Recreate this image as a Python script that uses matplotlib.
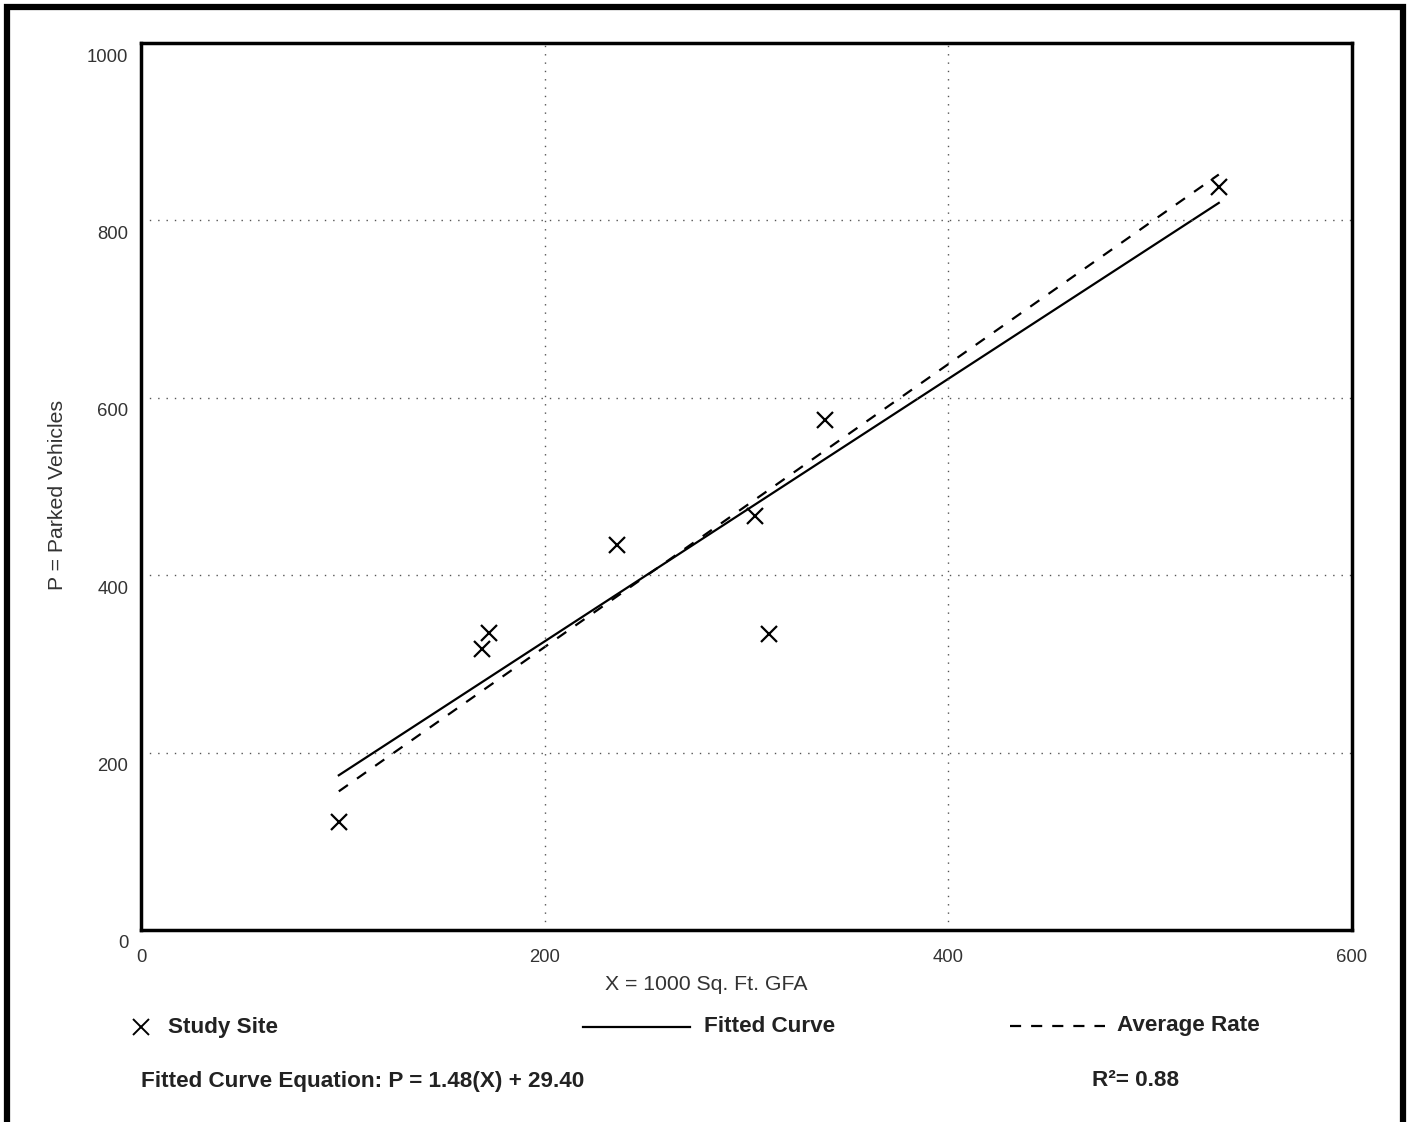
import numpy as np
import matplotlib.pyplot as plt
from matplotlib.patches import Rectangle
from matplotlib.lines import Line2D
from matplotlib.transforms import ScaledTranslation

plt.rcParams['font.family'] = ['Liberation Sans', 'DejaVu Sans']

# study sites (X = 1000 sq. ft. GFA, P = parked vehicles)
site_x = [98, 169, 172.5, 236, 304, 311, 339, 534]
site_p = [122, 317, 335, 434, 467, 334, 575, 838]

# fitted curve P = 1.48(X) + 29.40
fit_slope = 1.48
fit_icpt = 29.40
avg_rate = 1.595
r2 = 0.88

x_ticks = [0, 200, 400, 600]
y_ticks = [0, 200, 400, 600, 800, 1000]

fig = plt.figure(figsize=(14.08, 11.22), dpi=100)
ax = fig.add_axes([141/1408, 1-930/1122, 1211/1408, 887/1122])

xr = np.array([min(site_x), max(site_x)])
ax.plot(xr, fit_slope*xr + fit_icpt, color='black', lw=1.6)
ax.plot(xr, avg_rate*xr, color='black', lw=1.6, linestyle=(0, (5, 5)))
ax.plot(site_x, site_p, linestyle='none', marker='x', color='black',
        markersize=12, markeredgewidth=1.6)

ax.set_xlim(0, 600)
ax.set_ylim(0, 1000)
ax.set_xticks(x_ticks)
ax.set_yticks(y_ticks)
ax.tick_params(length=0, labelsize=13.3, labelcolor='#333333')
ax.tick_params(axis='x', pad=14)
ax.tick_params(axis='y', pad=9)
for lab in ax.get_yticklabels():
    lab.set_transform(lab.get_transform() + ScaledTranslation(0, -12/100, fig.dpi_scale_trans))

for v in x_ticks[1:-1]:
    ax.axvline(v, color='#555555', lw=1, linestyle=(0, (1, 5)))
for v in y_ticks[1:-1]:
    ax.axhline(v, color='#555555', lw=1, linestyle=(0, (1, 5)))
for s in ax.spines.values():
    s.set_linewidth(2.5)

fig.text(706/1408, 1-985/1122, 'X = 1000 Sq. Ft. GFA', ha='center', va='center',
         fontsize=15.3, color='#333333')
fig.text(58/1408, 1-495/1122, 'P = Parked Vehicles', ha='center', va='center',
         rotation=90, fontsize=15.3, color='#333333')

# legend row
ly = 1-1027/1122
bold = dict(fontsize=16.2, fontweight='bold', color='#222222', va='center')
fig.add_artist(Line2D([141/1408], [ly], marker='x', color='black', markersize=12,
                      markeredgewidth=1.4, linestyle='none'))
fig.text(168/1408, ly, 'Study Site', **bold)
fig.add_artist(Line2D([583/1408, 690/1408], [ly, ly], color='black', lw=1.6))
fig.text(704/1408, ly, 'Fitted Curve', **bold)
fig.add_artist(Line2D([1010/1408, 1105/1408], [ly+0.001, ly+0.001], color='black',
                      lw=1.6, linestyle=(0, (5, 4.5))))
fig.text(1117/1408, ly+0.001, 'Average Rate', **bold)

ey = 1-1081/1122
fig.text(141/1408, ey, 'Fitted Curve Equation: P = %.2f(X) + %.2f' % (fit_slope, fit_icpt), **bold)
fig.text(1092/1408, ey, 'R\u00b2= %.2f' % r2, **bold)

# outer frame
fig.add_artist(Rectangle((7/1408, -0.05), 1396/1408, 1.05 - 7/1122,
                         transform=fig.transFigure, fill=False, lw=4.5,
                         edgecolor='black', clip_on=False))

plt.savefig('out.png', dpi=100)
